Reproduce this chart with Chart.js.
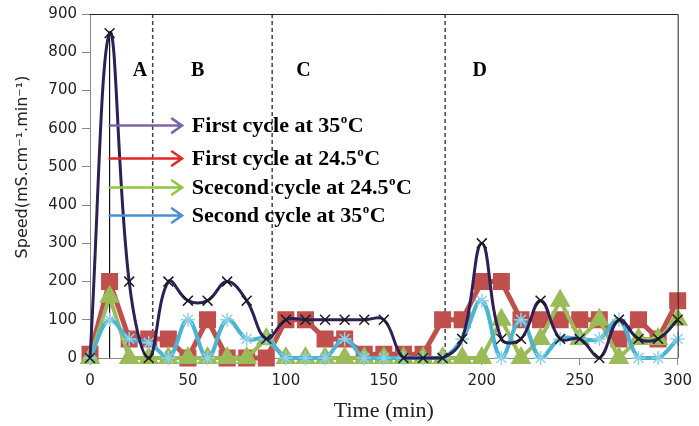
<!DOCTYPE html>
<html>
<head>
<meta charset="utf-8">
<script src="https://cdn.jsdelivr.net/npm/chart.js@4.4.1/dist/chart.umd.min.js"></script>
<style>
  html, body { margin: 0; padding: 0; background: #fff; }
  #wrap { width: 699px; height: 426px; }
</style>
</head>
<body>
<div id="wrap"><canvas id="speedChart" width="699" height="426"></canvas></div>
<script>
// ------------------------------------------------------------
// data
// ------------------------------------------------------------
const times = [0, 10, 20, 30, 40, 50, 60, 70, 80, 90, 100, 110, 120, 130, 140, 150,
               160, 170, 180, 190, 200, 210, 220, 230, 240, 250, 260, 270, 280, 290, 300];

const firstCycle35   = [0, 850, 200, 0, 200, 150, 150, 200, 150, 50, 100, 100, 100, 100, 100, 100,
                        0, 0, 0, 50, 300, 50, 50, 150, 50, 50, 0, 100, 50, 50, 100];
const firstCycle245  = [10, 200, 50, 50, 50, 0, 100, 0, 0, 0, 100, 100, 50, 50, 10, 10,
                        10, 10, 100, 100, 200, 200, 100, 100, 100, 100, 100, 50, 100, 50, 150];
const secondCycle245 = [0, 160, 0, 0, 0, 0, 0, 0, 0, 50, 0, 0, 0, 0, 0, 0,
                        0, 0, 0, 0, 0, 100, 0, 50, 150, 50, 100, 0, 50, 50, 100];
const secondCycle35  = [0, 100, 50, 40, 0, 100, 0, 100, 50, 50, 0, 0, 0, 50, 0, 0,
                        0, 0, 0, 50, 150, 0, 100, 0, 50, 50, 50, 100, 0, 0, 50];

const xTicks = [0, 50, 100, 150, 200, 250, 300];
const yTicks = [0, 100, 200, 300, 400, 500, 600, 700, 800, 900];

// phases A-D and the dashed borders between them
const phaseNames = ['A', 'B', 'C', 'D'];
const phaseTimes = [25.5, 55, 109, 199];
const phaseBounds = [32, 93, 181.3];

// arrow "legend"
const arrowLabels = ['First cycle at 35', 'First cycle at 24.5', 'Scecond cycle at 24.5', 'Second cycle at 35'];
const arrowLevels = [608, 522, 446, 373];
const arrowColors = ['#7d66a6', '#e3262b', '#8dc641', '#4b8fd6'];

const toPoints = vals => vals.map((v, i) => ({ x: times[i], y: v }));

// ------------------------------------------------------------
// overlay: dashed lines, arrows, labels, titles
// ------------------------------------------------------------
function drawDegreeText(ctx, text, x, y) {
    ctx.font = 'bold 22px "Liberation Serif"';
    ctx.fillText(text, x, y);
    const w = ctx.measureText(text).width;
    ctx.font = 'bold 13px "Liberation Serif"';
    ctx.fillText('o', x + w + 0.5, y - 7);
    const ow = ctx.measureText('o').width;
    ctx.font = 'bold 22px "Liberation Serif"';
    ctx.fillText('C', x + w + ow + 1, y);
}

const overlayPlugin = {
    id: 'overlay',
    beforeDatasetsDraw(chart) {
        const { ctx, chartArea: a, scales: { x, y } } = chart;
        ctx.save();
        ctx.strokeStyle = '#444';
        ctx.lineWidth = 1.5;
        ctx.setLineDash([4, 3]);
        phaseBounds.forEach(t => {
            const px = x.getPixelForValue(t);
            ctx.beginPath();
            ctx.moveTo(px, a.top);
            ctx.lineTo(px, a.bottom);
            ctx.stroke();
        });
        ctx.setLineDash([]);
        // thin vertical under the first peak
        ctx.strokeStyle = '#111';
        ctx.lineWidth = 1.2;
        ctx.beginPath();
        ctx.moveTo(x.getPixelForValue(10), y.getPixelForValue(850));
        ctx.lineTo(x.getPixelForValue(10), y.getPixelForValue(0));
        ctx.stroke();
        ctx.restore();
    },
    afterDatasetsDraw(chart) {
        const { ctx, chartArea: a, scales: { x, y } } = chart;
        ctx.save();
        // arrows + text
        arrowLabels.forEach((label, i) => {
            const py = y.getPixelForValue(arrowLevels[i]);
            const x1 = x.getPixelForValue(10);
            const x2 = x.getPixelForValue(47);
            ctx.strokeStyle = arrowColors[i];
            ctx.lineWidth = 2.5;
            ctx.lineCap = 'round';
            ctx.beginPath();
            ctx.moveTo(x1, py);
            ctx.lineTo(x2, py);
            ctx.moveTo(x2 - 10, py - 7);
            ctx.lineTo(x2, py);
            ctx.lineTo(x2 - 10, py + 7);
            ctx.stroke();
            ctx.fillStyle = '#000';
            ctx.textAlign = 'left';
            ctx.textBaseline = 'middle';
            drawDegreeText(ctx, label, x.getPixelForValue(52), py + 1);
        });
        // phase letters
        ctx.font = 'bold 20px "Liberation Serif"';
        ctx.textAlign = 'center';
        ctx.textBaseline = 'middle';
        ctx.fillStyle = '#000';
        phaseNames.forEach((n, i) => {
            ctx.fillText(n, x.getPixelForValue(phaseTimes[i]), y.getPixelForValue(751));
        });
        // top and right frame
        ctx.strokeStyle = '#222';
        ctx.lineWidth = 1;
        ctx.beginPath();
        ctx.moveTo(a.left, a.top + 0.5);
        ctx.lineTo(a.right + 0.5, a.top + 0.5);
        ctx.lineTo(a.right + 0.5, a.bottom);
        ctx.stroke();
        ctx.restore();
    },
    afterDraw(chart) {
        const { ctx, chartArea: a } = chart;
        ctx.save();
        ctx.fillStyle = '#222';
        ctx.textAlign = 'center';
        ctx.textBaseline = 'middle';
        ctx.font = '16px "DejaVu Sans"';
        ctx.translate(23, 167);
        ctx.rotate(-Math.PI / 2);
        ctx.fillText('Speed(mS.cm\u207B\u00B9.min\u207B\u00B9)', 0, 0);
        ctx.restore();
        ctx.save();
        ctx.fillStyle = '#222';
        ctx.textAlign = 'center';
        ctx.textBaseline = 'middle';
        ctx.font = '22px "Liberation Serif"';
        ctx.fillText('Time (min)', (a.left + a.right) / 2, 411);
        ctx.restore();
    }
};

// ------------------------------------------------------------
// chart
// ------------------------------------------------------------
const ctx = document.getElementById('speedChart').getContext('2d');
new Chart(ctx, {
    type: 'line',
    data: {
        datasets: [
            {
                label: 'First cycle at 35\u00B0C',
                data: toPoints(firstCycle35),
                borderColor: '#2e2057',
                borderWidth: 3,
                tension: 0.4,
                pointStyle: 'crossRot',
                pointRadius: 7,
                pointBorderColor: '#1a1a1a',
                pointBorderWidth: 1.5,
                clip: false,
                order: 0
            },
            {
                label: 'Second cycle at 35\u00B0C',
                data: toPoints(secondCycle35),
                borderColor: '#4bb4d0',
                borderWidth: 4,
                tension: 0.4,
                pointStyle: 'star',
                pointRadius: 7,
                pointBorderColor: '#8fd3ea',
                pointBorderWidth: 1.5,
                clip: false,
                order: 1
            },
            {
                label: 'Scecond cycle at 24.5\u00B0C',
                data: toPoints(secondCycle245),
                borderColor: '#9bbb59',
                backgroundColor: '#9bbb59',
                borderWidth: 4,
                tension: 0,
                pointStyle: 'triangle',
                pointRadius: 8,
                pointBorderColor: '#9bbb59',
                pointBackgroundColor: '#9bbb59',
                clip: false,
                order: 2
            },
            {
                label: 'First cycle at 24.5\u00B0C',
                data: toPoints(firstCycle245),
                borderColor: '#c0504d',
                backgroundColor: '#c0504d',
                borderWidth: 5,
                tension: 0,
                pointStyle: 'rect',
                pointRadius: 8.5,
                pointBorderColor: '#c0504d',
                pointBackgroundColor: '#c0504d',
                clip: false,
                order: 3
            }
        ]
    },
    options: {
        responsive: false,
        animation: false,
        layout: { padding: { top: 13, right: 19, left: 0, bottom: 0 } },
        plugins: {
            legend: { display: false },
            tooltip: { enabled: false }
        },
        scales: {
            x: {
                type: 'linear',
                min: 0,
                max: 300,
                afterBuildTicks: s => { s.ticks = xTicks.map(v => ({ value: v })); },
                afterFit: s => { s.height = 68; },
                ticks: { color: '#222', font: { family: 'DejaVu Sans', size: 15 }, padding: 7, maxRotation: 0 },
                grid: { drawOnChartArea: false, tickLength: 7, color: '#888' },
                border: { color: '#888' }
            },
            y: {
                min: 0,
                max: 900,
                afterBuildTicks: s => { s.ticks = yTicks.map(v => ({ value: v })); },
                afterFit: s => { s.width = 90; },
                ticks: { color: '#222', font: { family: 'DejaVu Sans', size: 15 }, padding: 5 },
                grid: { drawOnChartArea: false, tickLength: 8, color: '#888' },
                border: { color: '#888' }
            }
        }
    },
    plugins: [overlayPlugin]
});
</script>
</body>
</html>
